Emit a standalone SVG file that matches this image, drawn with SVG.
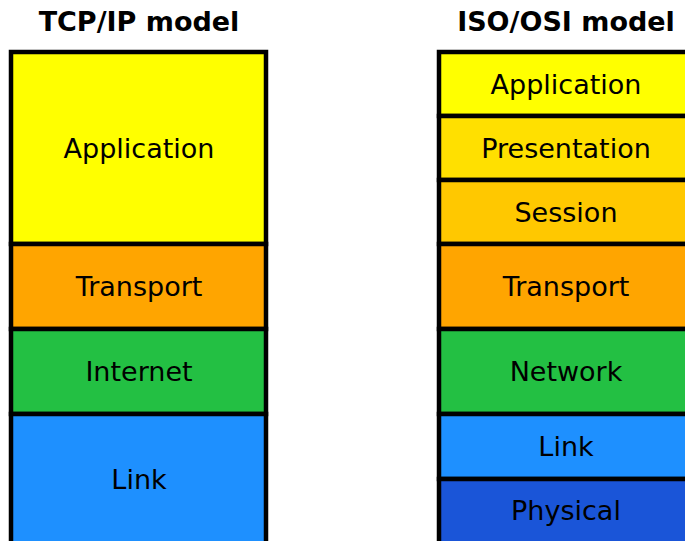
<svg xmlns="http://www.w3.org/2000/svg" width="685" height="541" viewBox="0 0 685 541">
<style>
.t{font-family:"DejaVu Sans",sans-serif;font-size:27px;font-weight:bold;text-anchor:middle;fill:#000}
.l{font-family:"DejaVu Sans",sans-serif;font-size:27px;text-anchor:middle;fill:#000}
.b{stroke:#000;stroke-width:4.5}
</style>
<rect width="685" height="541" fill="#fff"/>
<text class="t" x="139" y="31">TCP/IP model</text>
<text class="t" x="566" y="31">ISO/OSI model</text>
<g id="tcpip">
<g id="tcp-application"><rect class="b" x="11" y="52" width="255" height="192" fill="#ffff00"/><text class="l" x="139" y="157.5">Application</text></g>
<g id="tcp-transport"><rect class="b" x="11" y="244" width="255" height="85" fill="#ffa500"/><text class="l" x="139" y="296">Transport</text></g>
<g id="tcp-internet"><rect class="b" x="11" y="329" width="255" height="85" fill="#23c043"/><text class="l" x="139" y="381">Internet</text></g>
<g id="tcp-link"><rect class="b" x="11" y="414" width="255" height="132" fill="#1e90ff"/><text class="l" x="139" y="489">Link</text></g>
</g>
<g id="osi">
<g id="osi-application"><rect class="b" x="439" y="52" width="255" height="64" fill="#ffff00"/><text class="l" x="566" y="93.5">Application</text></g>
<g id="osi-presentation"><rect class="b" x="439" y="116" width="255" height="64" fill="#ffe000"/><text class="l" x="566" y="157.5">Presentation</text></g>
<g id="osi-session"><rect class="b" x="439" y="180" width="255" height="64" fill="#ffc800"/><text class="l" x="566" y="221.5">Session</text></g>
<g id="osi-transport"><rect class="b" x="439" y="244" width="255" height="85" fill="#ffa500"/><text class="l" x="566" y="296">Transport</text></g>
<g id="osi-network"><rect class="b" x="439" y="329" width="255" height="85" fill="#23c043"/><text class="l" x="566" y="381">Network</text></g>
<g id="osi-link"><rect class="b" x="439" y="414" width="255" height="65" fill="#1e90ff"/><text class="l" x="566" y="456">Link</text></g>
<g id="osi-physical"><rect class="b" x="439" y="479" width="255" height="67" fill="#1a55d8"/><text class="l" x="566" y="520">Physical</text></g>
</g>
<g id="connectors"/>
</svg>
